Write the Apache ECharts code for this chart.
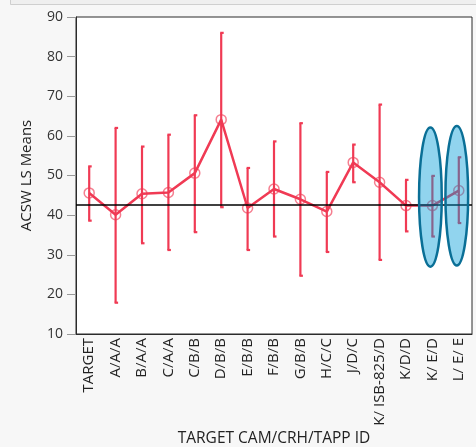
<!DOCTYPE html>
<html>
<head>
<meta charset="utf-8">
<script src="https://cdn.jsdelivr.net/npm/echarts@6/dist/echarts.min.js"></script>
<style>
html,body{margin:0;padding:0;background:#f7f7f7;}
#c{width:476px;height:447px;}
</style>
</head>
<body>
<div id="c"></div>
<script>
var categories = ['TARGET','A/A/A','B/A/A','C/A/A','C/B/B','D/B/B','E/B/B','F/B/B','G/B/B','H/C/C','J/D/C','K/ ISB-825/D','K/D/D','K/ E/D','L/ E/ E'];
var means = [45.6, 40.1, 45.4, 45.7, 50.6, 64.1, 41.8, 46.6, 44.0, 40.9, 53.3, 48.3, 42.4, 42.4, 46.2];
var lower = [38.6, 17.9, 32.9, 31.2, 35.7, 42.0, 31.2, 34.6, 24.7, 30.7, 48.3, 28.7, 35.9, 34.6, 38.0];
var upper = [52.3, 62.0, 57.3, 60.3, 65.2, 86.0, 51.9, 58.6, 63.2, 50.9, 57.8, 67.9, 48.9, 49.9, 54.6];
var referenceValue = 42.6;
var highlightCats = ['K/ E/D', 'L/ E/ E'];
var highlightLow = [27.0, 27.3];
var highlightHigh = [62.1, 62.5];
var yTicks = [10, 20, 30, 40, 50, 60, 70, 80, 90];

var RED = 'rgb(240,58,84)';
var FONT = 'Open Sans';

var errData = categories.map(function (c, i) { return [i, lower[i], upper[i]]; });
var ellData = highlightCats.map(function (c, i) { return [categories.indexOf(c), highlightLow[i], highlightHigh[i]]; });

var chart = echarts.init(document.getElementById('c'));
chart.setOption({
  backgroundColor: '#f7f7f7',
  animation: false,
  graphic: [{
    type: 'rect', left: 10, top: -6, shape: { width: 480, height: 10 },
    style: { fill: '#efefef', stroke: '#cfcfcf', lineWidth: 1 }, z: 100
  }],
  grid: { left: 76, right: 4, top: 17, bottom: 113, containLabel: false, outerBoundsMode: 'none', show: true, backgroundColor: '#ffffff', borderColor: '#2b2b2b', borderWidth: 1 },
  xAxis: {
    type: 'category', data: categories, boundaryGap: true,
    axisTick: { show: false },
    axisLine: { show: true, lineStyle: { color: '#2b2b2b', width: 1 } },
    axisLabel: { rotate: 90, fontSize: 15, color: '#222', fontFamily: FONT, margin: 4, interval: 0 },
    name: 'TARGET CAM/CRH/TAPP ID', nameLocation: 'middle', nameGap: 97, nameMoveOverlap: false,
    nameTextStyle: { fontSize: 15.5, color: '#222', fontFamily: FONT }
  },
  yAxis: {
    type: 'value', min: yTicks[0], max: yTicks[yTicks.length - 1], interval: 10,
    splitLine: { show: false },
    axisLine: { show: true, lineStyle: { color: '#2b2b2b', width: 1 } },
    axisTick: { show: true, length: 9, lineStyle: { color: '#999' } },
    axisLabel: { fontSize: 14, color: '#333', fontFamily: FONT, margin: 13 },
    name: 'ACSW LS Means', nameLocation: 'middle', nameGap: 42, nameMoveOverlap: false,
    nameTextStyle: { fontSize: 15, color: '#222', fontFamily: FONT }
  },
  series: [
    {
      type: 'custom', z: 2, silent: true,
      data: errData,
      encode: { x: 0, y: [1, 2] },
      renderItem: function (params, api) {
        var lo = api.coord([api.value(0), api.value(1)]);
        var hi = api.coord([api.value(0), api.value(2)]);
        var x = lo[0];
        var st = { stroke: RED, lineWidth: 2.2 };
        return {
          type: 'group', children: [
            { type: 'line', shape: { x1: x, y1: hi[1], x2: x, y2: lo[1] }, style: st },
            { type: 'line', shape: { x1: x - 1, y1: hi[1], x2: x + 2.5, y2: hi[1] }, style: st },
            { type: 'line', shape: { x1: x - 1, y1: lo[1], x2: x + 2.5, y2: lo[1] }, style: st }
          ]
        };
      }
    },
    {
      type: 'line', z: 3, data: means, silent: true,
      symbol: 'circle', symbolSize: 10,
      lineStyle: { color: RED, width: 2.5 },
      itemStyle: { color: 'rgba(255,255,255,0)', borderColor: 'rgba(240,58,84,0.65)', borderWidth: 1.5 }
    },
    {
      type: 'custom', z: 5, silent: true,
      data: ellData,
      encode: { x: 0, y: [1, 2] },
      renderItem: function (params, api) {
        var lo = api.coord([api.value(0), api.value(1)]);
        var hi = api.coord([api.value(0), api.value(2)]);
        var w = api.size([1, 0])[0];
        return {
          type: 'ellipse',
          shape: { cx: lo[0] - 2, cy: (lo[1] + hi[1]) / 2, rx: w * 0.43, ry: (lo[1] - hi[1]) / 2 },
          style: { fill: 'rgba(0,156,216,0.43)', stroke: '#0a6f96', lineWidth: 2.5 }
        };
      }
    },
    {
      type: 'line', z: 10, data: [], silent: true,
      markLine: {
        silent: true, symbol: 'none', label: { show: false },
        lineStyle: { color: '#000', width: 1.5, type: 'solid' },
        data: [{ yAxis: referenceValue }]
      }
    }
  ]
});
</script>
</body>
</html>
